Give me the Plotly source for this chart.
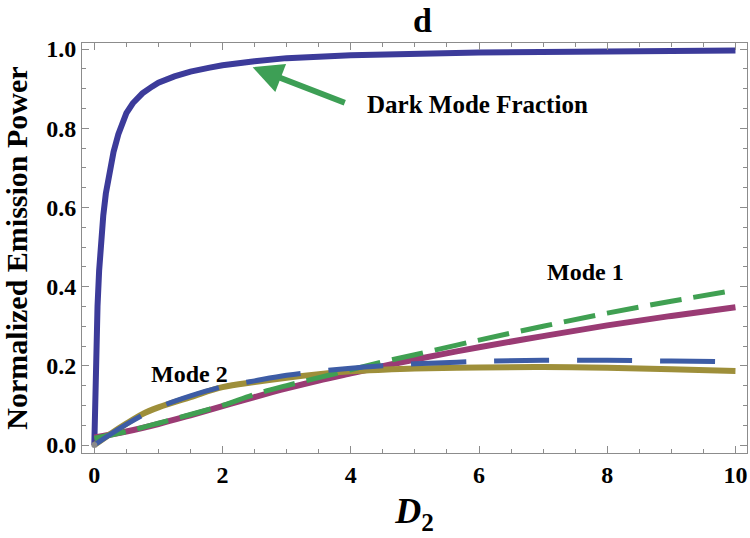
import plotly.graph_objects as go

# ---- data ----
dark_x = [0, 0.005, 0.01, 0.02, 0.035, 0.05, 0.075, 0.1, 0.14, 0.18, 0.22, 0.26, 0.3, 0.375, 0.45, 0.5,
          0.6, 0.75, 0.9, 1, 1.25, 1.5, 1.8, 2, 2.5, 3, 4, 5, 6, 8, 10]
dark_y = [0.0, 0.06, 0.11, 0.19, 0.28, 0.35, 0.44, 0.505, 0.58, 0.635, 0.675, 0.71, 0.74, 0.785, 0.818, 0.838,
          0.863, 0.888, 0.905, 0.915, 0.931, 0.943, 0.953, 0.959, 0.969, 0.977, 0.984, 0.988, 0.991, 0.994, 0.996]

mode1_x = [0, 0.5, 1, 1.5, 2, 2.5, 3, 3.5, 4, 4.5, 5, 6, 7, 8, 9, 10]
mode1_solid = [0.019, 0.034, 0.053, 0.075, 0.098, 0.121, 0.143, 0.163, 0.181, 0.199, 0.216, 0.247, 0.275, 0.302, 0.326, 0.348]
mode1_dash = [0.017, 0.034, 0.055, 0.077, 0.100, 0.128, 0.150, 0.170, 0.190, 0.210, 0.228, 0.265, 0.300, 0.333, 0.363, 0.391]

mode2_x = [0, 0.25, 0.5, 0.75, 1, 1.5, 2, 2.5, 3, 3.5, 4, 4.5, 5, 6, 7, 8, 9, 10]
mode2_solid = [0.0, 0.028, 0.054, 0.078, 0.095, 0.121, 0.146, 0.159, 0.170, 0.179, 0.186, 0.190, 0.193, 0.196, 0.197, 0.195, 0.191, 0.187]
mode2_dash = [0.0, 0.027, 0.052, 0.075, 0.095, 0.124, 0.147, 0.162, 0.176, 0.186, 0.194, 0.200, 0.205, 0.211, 0.214, 0.214, 0.212, 0.210]

x_ticks = [0, 2, 4, 6, 8, 10]
y_ticks = [0.0, 0.2, 0.4, 0.6, 0.8, 1.0]
y_ticklabels = ["0.0", "0.2", "0.4", "0.6", "0.8", "1.0"]

title_text = "d"
x_title = "<b><i>D</i><sub>2</sub></b>"
y_title = "<b>Normalized Emission Power</b>"
label_dark = "Dark Mode Fraction"
label_mode1 = "Mode 1"
label_mode2 = "Mode 2"

SERIF = "Liberation Serif"
FRAME = "#8c8c8c"

fig = go.Figure()
fig.add_trace(go.Scatter(x=dark_x, y=dark_y, mode="lines", line=dict(color="#3c3b9a", width=6)))
fig.add_trace(go.Scatter(x=mode1_x, y=mode1_solid, mode="lines", line=dict(color="#9a3b74", width=6, shape="spline")))
fig.add_trace(go.Scatter(x=mode2_x, y=mode2_solid, mode="lines", line=dict(color="#9e8f3a", width=6, shape="spline")))
fig.add_trace(go.Scatter(x=mode1_x, y=mode1_dash, mode="lines", line=dict(color="#40a052", width=5, dash="32px,12px", shape="spline")))
fig.add_trace(go.Scatter(x=mode2_x, y=mode2_dash, mode="lines", line=dict(color="#3d5ca5", width=5, dash="55px,28px", shape="spline")))
fig.add_trace(go.Scatter(x=[0], y=[0], mode="markers", marker=dict(color="#8a8a8a", size=6)))

axis_common = dict(
    showgrid=False, zeroline=False, showline=True, linecolor=FRAME, linewidth=1,
    mirror="allticks", ticks="inside", tickcolor=FRAME, ticklen=7, tickwidth=1,
    tickfont=dict(family=SERIF, size=24, color="black", weight="bold"),
)

fig.update_layout(
    width=750, height=538,
    margin=dict(l=82, r=3, t=43, b=85),
    paper_bgcolor="white", plot_bgcolor="white",
    showlegend=False,
    xaxis=dict(
        range=[-0.192, 10.18], tickvals=x_ticks, ticktext=[str(v) for v in x_ticks],
        minor=dict(dtick=0.5, tick0=0, ticks="inside", ticklen=4, tickcolor=FRAME, showgrid=False),
        title=dict(text=x_title, font=dict(family=SERIF, size=36, color="black"), standoff=11),
        **axis_common,
    ),
    yaxis=dict(
        range=[-0.0202, 1.0152], tickvals=y_ticks, ticktext=y_ticklabels,
        minor=dict(dtick=0.05, tick0=0, ticks="inside", ticklen=4, tickcolor=FRAME, showgrid=False),
        title=dict(text=y_title, font=dict(family=SERIF, size=30, color="black"), standoff=14),
        **axis_common,
    ),
)

annotations = [
    dict(text="<b>%s</b>" % title_text, xref="paper", yref="paper", x=0.512, y=1.0, yshift=43 - 20,
         showarrow=False, font=dict(family=SERIF, size=34, color="black"), xanchor="center", yanchor="middle"),
    dict(text="<b>%s</b>" % label_dark, x=5.97, y=0.859, showarrow=False,
         font=dict(family=SERIF, size=25, color="black"), xanchor="center", yanchor="middle"),
    dict(text="<b>%s</b>" % label_mode1, x=7.66, y=0.437, showarrow=False,
         font=dict(family=SERIF, size=24, color="black"), xanchor="center", yanchor="middle"),
    dict(text="<b>%s</b>" % label_mode2, x=1.49, y=0.179, showarrow=False,
         font=dict(family=SERIF, size=24, color="black"), xanchor="center", yanchor="middle"),
    dict(text="", x=2.47, y=0.954, ax=3.93, ay=0.863, axref="x", ayref="y", xref="x", yref="y",
         showarrow=True, arrowhead=2, arrowsize=1.0, arrowwidth=6, arrowcolor="#3d9f55"),
]
fig.update_layout(annotations=annotations)

fig.write_html("out.html")
